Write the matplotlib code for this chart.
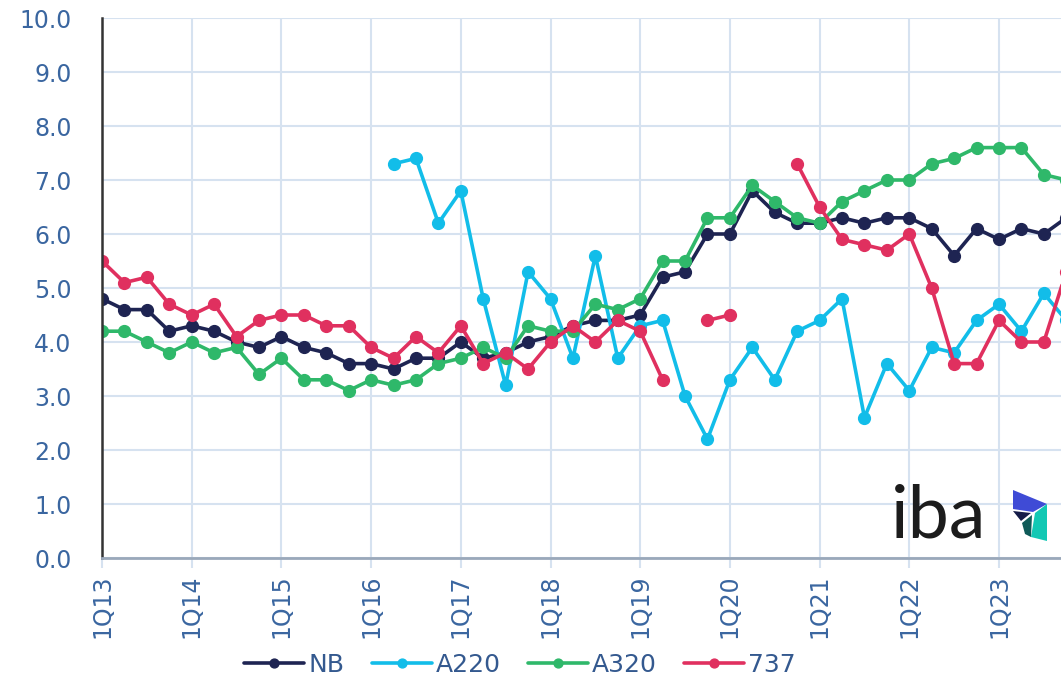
import numpy as np
import matplotlib
matplotlib.use("Agg")
import matplotlib.pyplot as plt
from matplotlib.patches import Polygon

nan = np.nan

# quarterly values, 1Q13 .. 4Q23
tick_labels = ["1Q13", "1Q14", "1Q15", "1Q16", "1Q17", "1Q18",
               "1Q19", "1Q20", "1Q21", "1Q22", "1Q23"]
n_quarters = 44

nb = [4.8, 4.6, 4.6, 4.2, 4.3, 4.2, 4.0, 3.9, 4.1, 3.9, 3.8, 3.6, 3.6, 3.5,
      3.7, 3.7, 4.0, 3.7, 3.8, 4.0, 4.1, 4.3, 4.4, 4.4, 4.5, 5.2, 5.3, 6.0,
      6.0, 6.8, 6.4, 6.2, 6.2, 6.3, 6.2, 6.3, 6.3, 6.1, 5.6, 6.1, 5.9, 6.1,
      6.0, 6.3]
a220 = [nan] * 13 + [7.3, 7.4, 6.2, 6.8, 4.8, 3.2, 5.3, 4.8, 3.7, 5.6, 3.7,
                     4.3, 4.4, 3.0, 2.2, 3.3, 3.9, 3.3, 4.2, 4.4, 4.8, 2.6,
                     3.6, 3.1, 3.9, 3.8, 4.4, 4.7, 4.2, 4.9, 4.4]
a320 = [4.2, 4.2, 4.0, 3.8, 4.0, 3.8, 3.9, 3.4, 3.7, 3.3, 3.3, 3.1, 3.3, 3.2,
        3.3, 3.6, 3.7, 3.9, 3.7, 4.3, 4.2, 4.2, 4.7, 4.6, 4.8, 5.5, 5.5, 6.3,
        6.3, 6.9, 6.6, 6.3, 6.2, 6.6, 6.8, 7.0, 7.0, 7.3, 7.4, 7.6, 7.6, 7.6,
        7.1, 7.0]
b737 = [5.5, 5.1, 5.2, 4.7, 4.5, 4.7, 4.1, 4.4, 4.5, 4.5, 4.3, 4.3, 3.9, 3.7,
        4.1, 3.8, 4.3, 3.6, 3.8, 3.5, 4.0, 4.3, 4.0, 4.4, 4.2, 3.3, nan, 4.4,
        4.5, nan, nan, 7.3, 6.5, 5.9, 5.8, 5.7, 6.0, 5.0, 3.6, 3.6, 4.4, 4.0,
        4.0, 5.3]

series = [("NB", nb, "#1e2452"), ("A220", a220, "#12bde9"),
          ("A320", a320, "#2fb86a"), ("737", b737, "#e0305f")]

label_col = "#3a66a0"
grid_col = "#d6e2f0"

fig = plt.figure(figsize=(10.61, 6.81), dpi=100)
ax = fig.add_axes([102 / 1061, 123 / 681, 959 / 1061, 540 / 681])

x = np.arange(n_quarters)
for name, vals, col in series:
    ax.plot(x, vals, color=col, lw=2.6, marker="o", ms=8.5, label=name,
            solid_capstyle="round")

ax.set_ylim(0, 10)
ax.set_xlim(0, 959 / 22.425)
ax.set_yticks(np.arange(0, 10.5, 1.0))
ax.set_yticklabels([f"{v:.1f}" for v in np.arange(0, 10.5, 1.0)])
ax.set_xticks(np.arange(0, n_quarters, 4))
ax.set_xticklabels(tick_labels, rotation=90)

ax.grid(True, color=grid_col, lw=1.5)
ax.set_axisbelow(True)
for s in ["top", "right"]:
    ax.spines[s].set_visible(False)
ax.spines["left"].set_color("#333333")
ax.spines["left"].set_linewidth(1.8)
ax.spines["bottom"].set_color("#9aa8ba")
ax.spines["bottom"].set_linewidth(2)

ax.tick_params(axis="y", length=0, pad=22, labelsize=17, labelcolor=label_col)
ax.tick_params(axis="x", length=7, width=1.5, color=grid_col, pad=5,
               labelsize=17, labelcolor=label_col)

leg = fig.legend(loc="center", bbox_to_anchor=(0.49, 0.024), ncol=4,
                 frameon=False, fontsize=18, handlelength=2.4,
                 handletextpad=0.15, columnspacing=1.1, markerscale=0.75)
for t in leg.get_texts():
    t.set_color("#34598f")

# iba logo
fig.text(891 / 1061, 1 - 538 / 681, "iba", fontsize=53, family="Lato",
         color="#1c1c1c", va="baseline", ha="left")

def px(p):
    return (p[0] / 1061, 1 - p[1] / 681)

logo_parts = [
    ([(1013, 490), (1047, 504), (1033, 512), (1013, 509)], "#3f4bd6"),
    ([(1047, 504), (1047, 541), (1031, 537), (1035, 513)], "#12c8b4"),
    ([(1013, 511), (1031, 513), (1021, 521)], "#151b48"),
    ([(1022, 523), (1032, 515), (1031, 537), (1025, 534)], "#0f5a58"),
]
for pts, col in logo_parts:
    fig.patches.append(Polygon([px(p) for p in pts], closed=True, fc=col,
                               ec="none", transform=fig.transFigure,
                               figure=fig))

fig.savefig("out.png", dpi=100)
